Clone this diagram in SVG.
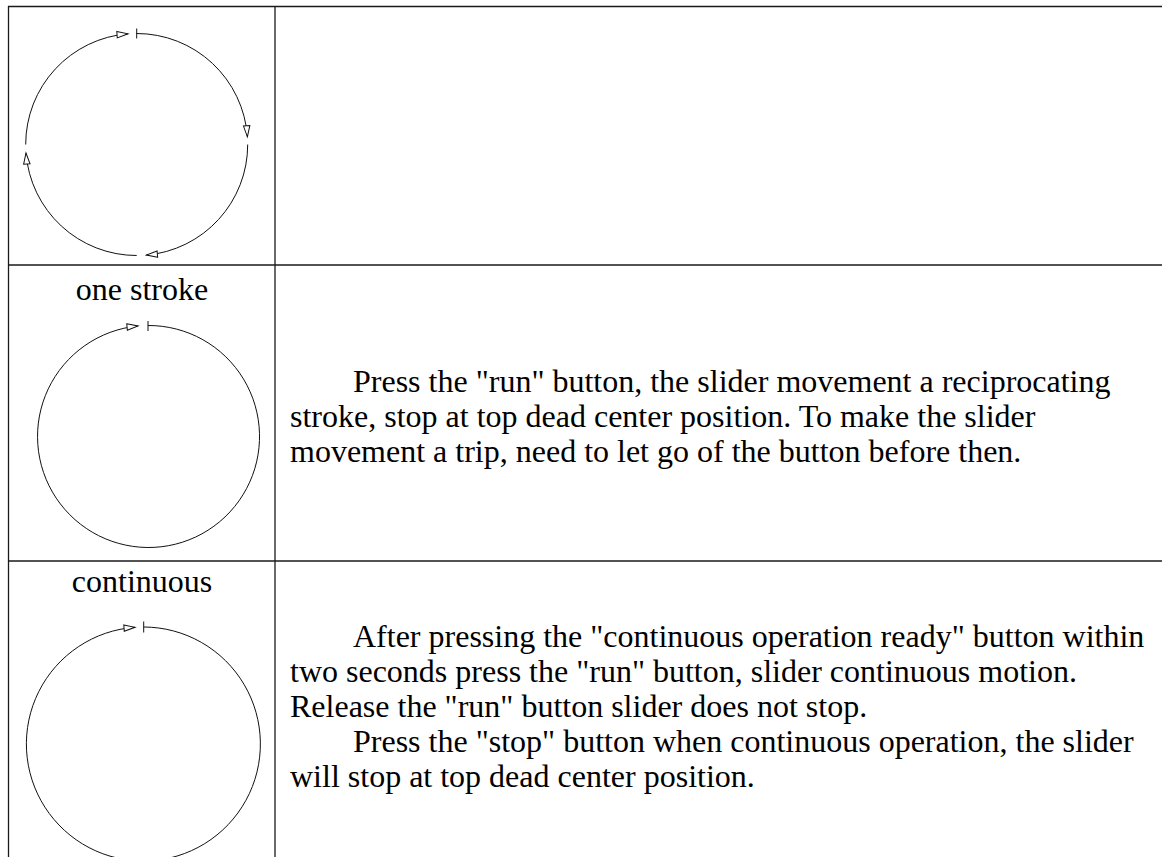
<svg xmlns="http://www.w3.org/2000/svg" width="1162" height="857" viewBox="0 0 1162 857">
<style>
.grid{stroke:#1a1a1a;stroke-width:1.3;fill:none}
.arc{stroke:#111;stroke-width:1;fill:none}
.tick{stroke:#111;stroke-width:1}
.t{font-family:"Liberation Serif","Times New Roman",serif;font-size:32px;fill:#000}
.c{text-anchor:middle}
</style>
<defs>
<marker id="arr" markerUnits="userSpaceOnUse" viewBox="-1 -5 14 10" markerWidth="14" markerHeight="10" refX="11" refY="0" orient="auto" overflow="visible">
<path d="M0,-3.2 L11,0 L0,3.2 Z" fill="#fff" stroke="#111" stroke-width="1"/>
</marker>
</defs>
<rect width="1162" height="857" fill="#fff"/>
<g id="table" class="grid">
<line x1="8" y1="6.5" x2="1162" y2="6.5"/>
<line x1="8.5" y1="6" x2="8.5" y2="857"/>
<line x1="275" y1="6" x2="275" y2="857"/>
<line x1="8" y1="265" x2="1162" y2="265"/>
<line x1="8" y1="561" x2="1162" y2="561"/>
</g>
<g id="cycle-diagram">
<line class="tick" x1="136.7" y1="28.5" x2="136.7" y2="38.5"/>
<g id="connectors-1">
<path class="arc" marker-end="url(#arr)" d="M136.7,33.5 A111,111 0 0 1 247.4,136.8"/>
<path class="arc" marker-end="url(#arr)" d="M247.7,144.5 A111,111 0 0 1 146.4,255.1"/>
<path class="arc" marker-end="url(#arr)" d="M136.7,255.5 A111,111 0 0 1 26.0,153.0"/>
<path class="arc" marker-end="url(#arr)" d="M25.7,144.5 A111,111 0 0 1 128.0,33.8"/>
</g>
</g>
<g id="one-stroke">
<text class="t c" x="142" y="300">one stroke</text>
<line class="tick" x1="148" y1="321" x2="148" y2="331"/>
<path class="arc" marker-end="url(#arr)" d="M148,325.5 A111,111 0 1 1 138,326"/>
<text class="t" x="353" y="392">Press the "run" button, the slider movement a reciprocating</text>
<text class="t" x="290" y="427">stroke, stop at top dead center position. To make the slider</text>
<text class="t" x="290" y="462">movement a trip, need to let go of the button before then.</text>
</g>
<g id="continuous">
<text class="t c" x="142" y="592">continuous</text>
<line class="tick" x1="143.7" y1="621.5" x2="143.7" y2="632.5"/>
<path class="arc" marker-end="url(#arr)" d="M143.7,627 A117,117 0 1 1 135,627.3"/>
<text class="t" x="353" y="647">After pressing the "continuous operation ready" button within</text>
<text class="t" x="290" y="682">two seconds press the "run" button, slider continuous motion.</text>
<text class="t" x="290" y="717">Release the "run" button slider does not stop.</text>
<text class="t" x="353" y="752">Press the "stop" button when continuous operation, the slider</text>
<text class="t" x="290" y="787">will stop at top dead center position.</text>
</g>
</svg>
